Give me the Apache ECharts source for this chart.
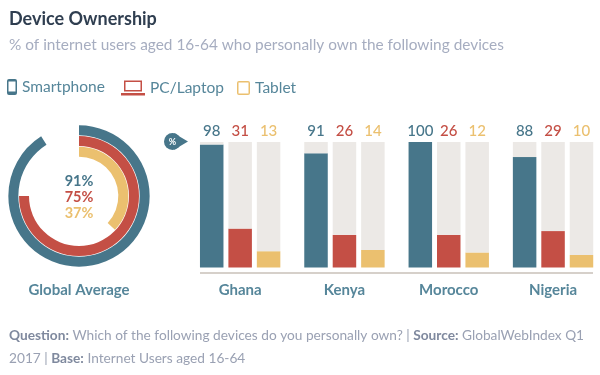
<!DOCTYPE html>
<html>
<head>
<meta charset="utf-8">
<style>
  html, body { margin: 0; padding: 0; background: #fff; }
  #main { width: 600px; height: 375px; }
</style>
<script src="https://cdn.jsdelivr.net/npm/echarts@6/dist/echarts.min.js"></script>
</head>
<body>
<div id="main"></div>
<script>
const countries = ["Ghana", "Kenya", "Morocco", "Nigeria"];
const smartphone = [98, 91, 100, 88];
const laptop = [31, 26, 26, 29];
const tablet = [13, 14, 12, 10];
const globalAverage = [91, 75, 37];
const deviceNames = ["Smartphone", "PC/Laptop", "Tablet"];

const fontName = "Lato";
const teal = "#47768a";
const red = "#c44f45";
const yellow = "#ebc06f";
const track = "#ece9e6";
const labelColor = "#56869a";
const footGrey = "#9aa1b3";
const footBold = "#7f899e";

const phoneIcon = "path://M2 0H8Q10 0 10 2V14Q10 16 8 16H2Q0 16 0 14V2Q0 0 2 0ZM1.5 2.5V12.5H8.5V2.5Z";
const laptopIcon = "path://M3 0H21V11H3ZM4.5 1.5V9.5H19.5V1.5ZM0 12.5H24V15H0Z";
const tabletIcon = "path://M2 0H11Q13 0 13 2V12Q13 14 11 14H2Q0 14 0 12V2Q0 0 2 0ZM1.5 1.5V12.5H11.5V1.5Z";

const myChart = echarts.init(document.getElementById("main"), null, { renderer: "canvas" });

const legendItem = (name, left, icon, w, h, top) => ({
  data: [name],
  left,
  top,
  icon,
  padding: 0,
  itemWidth: w,
  itemHeight: h,
  selectedMode: false,
  textStyle: { color: labelColor, fontFamily: fontName, fontSize: 15.5 },
});

// bar + the rest of the column in grey, the label sits on top of the grey part
const deviceSeries = (name, value, color, gridIndex) => [
  {
    name,
    type: "bar",
    stack: name + gridIndex,
    xAxisIndex: gridIndex,
    yAxisIndex: gridIndex,
    barWidth: 23.5,
    barGap: "21%",
    itemStyle: { color },
    data: [value],
  },
  {
    name: name + " rest",
    type: "bar",
    stack: name + gridIndex,
    xAxisIndex: gridIndex,
    yAxisIndex: gridIndex,
    barWidth: 23.5,
    barGap: "21%",
    itemStyle: { color: track },
    label: {
      show: true,
      position: "top",
      distance: 3,
      color,
      fontFamily: fontName,
      fontSize: 15,
      fontWeight: 500,
      formatter: () => value,
    },
    data: [100 - value],
  },
];

const avgColors = [teal, red, yellow];

myChart.setOption({
  animation: false,
  backgroundColor: "#fff",
  title: {
    text: "Device Ownership",
    subtext: "% of internet users aged 16-64 who personally own the following devices",
    left: 9,
    top: 10,
    itemGap: 10,
    padding: 0,
    textStyle: { color: "#2f3e50", fontFamily: fontName, fontSize: 18, fontWeight: "bold" },
    subtextStyle: { color: "#a6adc0", fontFamily: fontName, fontSize: 15.4 },
  },
  legend: [
    legendItem(deviceNames[0], 7, phoneIcon, 10, 16, 79),
    legendItem(deviceNames[1], 121, laptopIcon, 24, 15, 80),
    legendItem(deviceNames[2], 237, tabletIcon, 13, 14, 80),
  ],
  // one grid per country, the groups would not fit the window otherwise
  grid: countries.map((c, i) => ({ left: 195.15 + 104.3 * i, top: 142, width: 90, height: 125.5 })),
  xAxis: countries.map((c, i) => ({
    type: "category",
    gridIndex: i,
    data: [c],
    axisLine: { show: false },
    axisTick: { show: false },
    axisLabel: {
      color: labelColor,
      fontFamily: fontName,
      fontSize: 15,
      fontWeight: "bold",
      margin: 15,
    },
  })),
  yAxis: countries.map((c, i) => ({ type: "value", gridIndex: i, min: 0, max: 100, show: false })),
  polar: { center: [79, 196], radius: [39, 71] },
  angleAxis: { min: 0, max: 100, startAngle: 90, show: false },
  radiusAxis: { type: "category", data: deviceNames.slice().reverse(), show: false },
  series: [
    ...countries.flatMap((c, i) => [
      ...deviceSeries(deviceNames[0], smartphone[i], teal, i),
      ...deviceSeries(deviceNames[1], laptop[i], red, i),
      ...deviceSeries(deviceNames[2], tablet[i], yellow, i),
    ]),
    {
      name: "Global Average",
      type: "bar",
      coordinateSystem: "polar",
      barWidth: 10,
      data: globalAverage
        .map((v, i) => ({ value: v, itemStyle: { color: avgColors[i] } }))
        .reverse(),
    },
  ],
  graphic: [
    // baseline under the columns
    {
      type: "line",
      shape: { x1: 200, y1: 273, x2: 593, y2: 273 },
      style: { stroke: "#d6d0ca", lineWidth: 2 },
    },
    // % badge
    { type: "circle", shape: { cx: 172.5, cy: 141.5, r: 8.5 }, style: { fill: teal } },
    {
      type: "polygon",
      shape: { points: [[174, 133.2], [188, 141.5], [174, 149.8]] },
      style: { fill: teal },
    },
    {
      type: "text",
      x: 172.5,
      y: 142,
      style: { text: "%", fill: "#fff", fontFamily: fontName, fontSize: 9, fontWeight: "bold", textAlign: "center", textVerticalAlign: "middle" },
    },
    // numbers in the middle of the rings
    ...globalAverage.map((v, i) => ({
      type: "text",
      x: 79,
      y: 181 + i * 16,
      style: { text: v + "%", fill: avgColors[i], fontFamily: fontName, fontSize: 14.5, fontWeight: "bold", textAlign: "center", textVerticalAlign: "middle" },
    })),
    {
      type: "text",
      x: 79,
      y: 290,
      style: { text: "Global Average", fill: labelColor, fontFamily: fontName, fontSize: 15, fontWeight: "bold", textAlign: "center", textVerticalAlign: "middle" },
    },
    // source note
    {
      type: "text",
      x: 9,
      y: 324,
      style: {
        text: "{b|Question:} Which of the following devices do you personally own? | {b|Source:} GlobalWebIndex Q1\n2017 | {b|Base:} Internet Users aged 16-64",
        fill: footGrey,
        fontFamily: fontName,
        fontSize: 13.7,
        lineHeight: 23,
        rich: {
          b: { fill: footBold, fontFamily: fontName, fontSize: 13.7, fontWeight: "bold", lineHeight: 23 },
        },
      },
    },
  ],
});

window.addEventListener("resize", () => myChart.resize());
</script>
</body>
</html>
